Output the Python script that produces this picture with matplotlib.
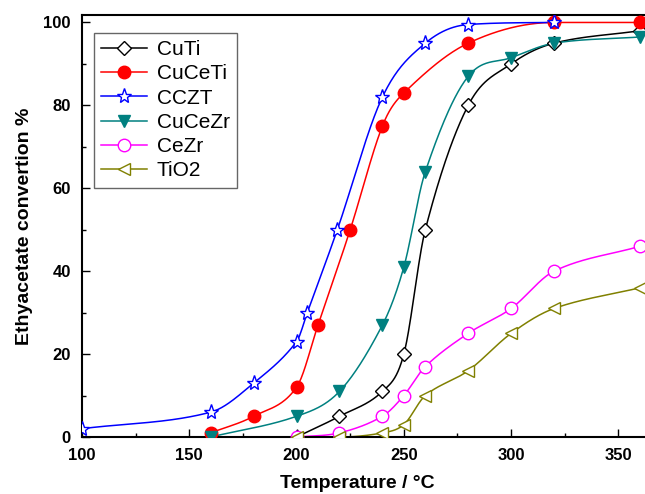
import numpy as np
import matplotlib
matplotlib.use("Agg")
import matplotlib.pyplot as plt
from matplotlib.ticker import MultipleLocator

plt.rcParams['font.family'] = ['Liberation Sans', 'DejaVu Sans']

# ---- data ----
series_names = ["CuTi", "CuCeTi", "CCZT", "CuCeZr", "CeZr", "TiO2"]

cuti_T = [200, 220, 240, 250, 260, 280, 300, 320, 360]
cuti_y = [0, 5, 11, 20, 50, 80, 90, 95, 98]

cuceti_T = [160, 180, 200, 210, 225, 240, 250, 280, 320, 360]
cuceti_y = [1, 5, 12, 27, 50, 75, 83, 95, 100, 100]

cczt_T = [100, 160, 180, 200, 205, 219, 240, 260, 280, 320]
cczt_y = [2, 6, 13, 23, 30, 50, 82, 95, 99.5, 100]

cucezr_T = [160, 200, 220, 240, 250, 260, 280, 300, 320, 360]
cucezr_y = [0, 5, 11, 27, 41, 64, 87, 91.5, 95, 96.5]

cezr_T = [200, 220, 240, 250, 260, 280, 300, 320, 360]
cezr_y = [0, 1, 5, 10, 17, 25, 31, 40, 46]

tio2_T = [200, 220, 240, 250, 260, 280, 300, 320, 360]
tio2_y = [0, 0, 1, 3, 10, 16, 25, 31, 36]

x_ticks = [100, 150, 200, 250, 300, 350]
y_ticks = [0, 20, 40, 60, 80, 100]


def smooth_monotone(x, y, xs):
    """Monotone (Fritsch-Carlson) cubic Hermite curve through the data points,
    with central-difference tangents - used only to draw the smooth line."""
    x = np.asarray(x, float)
    y = np.asarray(y, float)
    n = len(x)
    h = np.diff(x)
    d = np.diff(y) / h
    m = np.zeros(n)
    m[0] = d[0]
    m[-1] = d[-1]
    for k in range(1, n - 1):
        if d[k - 1] * d[k] <= 0:
            m[k] = 0.0
        else:
            m[k] = (y[k + 1] - y[k - 1]) / (x[k + 1] - x[k - 1])
    for k in range(n - 1):
        if d[k] == 0:
            m[k] = 0.0
            m[k + 1] = 0.0
            continue
        a = m[k] / d[k]
        b = m[k + 1] / d[k]
        s = a * a + b * b
        if s > 9:
            t = 3 / np.sqrt(s)
            m[k] = t * a * d[k]
            m[k + 1] = t * b * d[k]
    idx = np.clip(np.searchsorted(x, xs) - 1, 0, n - 2)
    hk = h[idx]
    t = (xs - x[idx]) / hk
    h00 = 2 * t**3 - 3 * t**2 + 1
    h10 = t**3 - 2 * t**2 + t
    h01 = -2 * t**3 + 3 * t**2
    h11 = t**3 - t**2
    return h00 * y[idx] + h10 * hk * m[idx] + h01 * y[idx + 1] + h11 * hk * m[idx + 1]


fig = plt.figure(figsize=(6.45, 4.94), dpi=100)
ax = fig.add_axes([82 / 645, 1 - 437 / 494, 1 - 82 / 645 + 0.002, (437 - 15) / 494])

styles = [
    (cuti_T, cuti_y, dict(color="black", marker="D", ms=7, mfc="white", mec="black")),
    (cuceti_T, cuceti_y, dict(color="red", marker="o", ms=9, mfc="red", mec="red")),
    (cczt_T, cczt_y, dict(color="blue", marker="*", ms=11, mfc="white", mec="blue", mew=1.0)),
    (cucezr_T, cucezr_y, dict(color="#008080", marker="v", ms=9, mfc="#008080", mec="#008080")),
    (cezr_T, cezr_y, dict(color="magenta", marker="o", ms=9, mfc="white", mec="magenta")),
    (tio2_T, tio2_y, dict(color="#808000", marker="<", ms=9, mfc="white", mec="#808000")),
]

for name, (T, Y, st) in zip(series_names, styles):
    xs = np.linspace(T[0], T[-1], 400)
    ys = smooth_monotone(T, Y, xs)
    ax.plot(xs, ys, color=st["color"], lw=1.1, zorder=2)
    ax.plot(T, Y, linestyle="none", marker=st["marker"], ms=st["ms"],
            mfc=st["mfc"], mec=st["mec"], mew=st.get("mew", 1.0), zorder=3)
    ax.plot([], [], color=st["color"], lw=1.1, marker=st["marker"], ms=st["ms"],
            mfc=st["mfc"], mec=st["mec"], mew=st.get("mew", 1.0), label=name)

ax.set_xlim(100, 363)
ax.set_ylim(0, 101.8)
ax.set_xticks(x_ticks)
ax.set_yticks(y_ticks)
ax.xaxis.set_minor_locator(MultipleLocator(25))
ax.yaxis.set_minor_locator(MultipleLocator(10))
ax.tick_params(which="major", direction="in", length=6, width=1.0, pad=8,
               labelsize=12, top=False, right=False)
ax.tick_params(which="minor", direction="in", length=3, width=1.0, top=False, right=False)
for lab in ax.get_xticklabels() + ax.get_yticklabels():
    lab.set_fontweight("bold")

for s in ["left", "bottom", "top"]:
    ax.spines[s].set_linewidth(1.5)
ax.spines["right"].set_visible(False)

ax.set_xlabel("Temperature / \u00b0C", fontsize=14, fontweight="bold")
ax.set_ylabel("Ethyacetate convertion %", fontsize=14, fontweight="bold")
ax.xaxis.set_label_coords((357 - 82) / 563, (437 - 475) / 422)
ax.yaxis.set_label_coords((33 - 82) / 563, 0.5)

leg = ax.legend(loc="upper left", bbox_to_anchor=((94 - 82) / 563, 1 - (33 - 15) / 422),
                borderaxespad=0, fontsize=15, fancybox=False, edgecolor="#666666",
                framealpha=1, handlelength=2.2, handletextpad=0.45, labelspacing=0.25,
                borderpad=0.35)
leg.get_frame().set_linewidth(1.0)

fig.savefig("out.png", dpi=100)
